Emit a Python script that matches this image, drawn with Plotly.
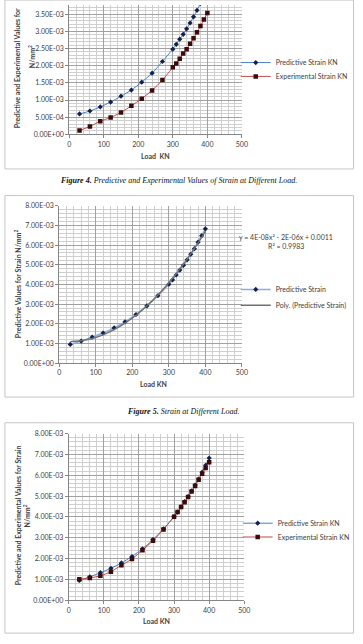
import numpy as np
import plotly.graph_objects as go

# ---------------- data (strain values in units of 1E-03) ----------------
load_kn = [30, 60, 90, 120, 150, 180, 210, 240, 270, 300, 310, 320, 330, 340, 350, 360, 370, 380, 390, 400]

fig4_predictive_e3 = [0.595, 0.68, 0.80, 0.94, 1.11, 1.29, 1.52, 1.78, 2.12, 2.48, 2.62, 2.77, 2.91, 3.07,
                      3.24, 3.42, 3.61, 3.81, 4.02, 4.24]
fig4_experimental_e3 = [0.115, 0.23, 0.38, 0.49, 0.64, 0.83, 1.04, 1.28, 1.58, 1.95, 2.06, 2.20, 2.35, 2.48,
                        2.64, 2.80, 2.97, 3.15, 3.34, 3.53]

predictive_strain_e3 = [0.95, 1.12, 1.32, 1.53, 1.79, 2.10, 2.47, 2.91, 3.43, 4.01, 4.23, 4.48, 4.73, 4.97,
                        5.25, 5.53, 5.82, 6.15, 6.48, 6.83]
experimental_strain_e3 = [1.01, 1.07, 1.17, 1.37, 1.68, 1.98, 2.40, 2.86, 3.40, 4.01, 4.24, 4.47, 4.71, 4.96,
                          5.22, 5.49, 5.79, 6.07, 6.35, 6.62]

x_ticks = [0, 100, 200, 300, 400, 500]
y_ticks_fig4 = [0, 5e-4, 1e-3, 1.5e-3, 2e-3, 2.5e-3, 3e-3, 3.5e-3]
y_ticktext_fig4 = ["0.00E+00", "5.00E-04", "1.00E-03", "1.50E-03", "2.00E-03", "2.50E-03", "3.00E-03", "3.50E-03"]
y_ticks_8 = [0, 1e-3, 2e-3, 3e-3, 4e-3, 5e-3, 6e-3, 7e-3, 8e-3]
y_ticktext_8 = ["0.00E+00", "1.00E-03", "2.00E-03", "3.00E-03", "4.00E-03", "5.00E-03", "6.00E-03", "7.00E-03", "8.00E-03"]

trend_equation = "y = 4E-08x² - 2E-06x + 0.0011"
trend_r2 = "R² = 0.9983"

def e3(v):
    return [a * 1e-3 for a in v]

W, H = 363, 644
def px(x):
    return x / W
def py(y):
    return 1 - y / H

FONT = "Lato"
TXT = "#404040"
BLUE_LINE = "#4a7ebb"
NAVY = "#10204f"
RED_LINE = "#be4b48"
MAROON = "#3d0a0a"
MAJOR = "#a0a0a0"
MINOR = "#cfcfcf"
AXIS = "#868686"

fig = go.Figure()

# ---------- Figure 4 (top, cropped) ----------
fig.add_trace(go.Scatter(x=load_kn, y=e3(fig4_predictive_e3), mode="lines+markers", name="Predictive Strain KN",
                         line=dict(color=BLUE_LINE, width=1, shape="spline", smoothing=0.6),
                         marker=dict(symbol="diamond", size=4, color=NAVY),
                         xaxis="x", yaxis="y", legend="legend"))
fig.add_trace(go.Scatter(x=load_kn, y=e3(fig4_experimental_e3), mode="lines+markers", name="Experimental Strain KN",
                         line=dict(color=RED_LINE, width=1, shape="spline", smoothing=0.6),
                         marker=dict(symbol="square", size=4.5, color=MAROON),
                         xaxis="x", yaxis="y", legend="legend2"))

# ---------- Figure 5 (middle) ----------
coef = np.polyfit(load_kn, e3(predictive_strain_e3), 2)
trend_vals = np.polyval(coef, load_kn)
fig.add_trace(go.Scatter(x=load_kn, y=e3(predictive_strain_e3), mode="lines+markers", name="Predictive Strain",
                         line=dict(color="#86aee0", width=1.5, shape="spline", smoothing=0.6),
                         marker=dict(symbol="diamond", size=4, color=NAVY),
                         xaxis="x2", yaxis="y2", legend="legend3"))
fig.add_trace(go.Scatter(x=load_kn, y=trend_vals, mode="lines", name="Poly. (Predictive Strain)",
                         line=dict(color="#707070", width=1.4, shape="spline", smoothing=0.6),
                         xaxis="x2", yaxis="y2", legend="legend4"))

# ---------- Figure 6 (bottom) ----------
fig.add_trace(go.Scatter(x=load_kn, y=e3(predictive_strain_e3), mode="lines+markers", name="Predictive Strain KN",
                         line=dict(color=BLUE_LINE, width=1, shape="spline", smoothing=0.6),
                         marker=dict(symbol="diamond", size=4, color=NAVY),
                         xaxis="x3", yaxis="y3", legend="legend5"))
fig.add_trace(go.Scatter(x=load_kn, y=e3(experimental_strain_e3), mode="lines+markers", name="Experimental Strain KN",
                         line=dict(color=RED_LINE, width=1, shape="spline", smoothing=0.6),
                         marker=dict(symbol="square", size=4.5, color=MAROON),
                         xaxis="x3", yaxis="y3", legend="legend6"))

tickfont = dict(family=FONT, size=7, color=TXT)
x_minor = list(np.arange(0, 501, 20))

def xax(dom, anchor):
    return dict(domain=dom, anchor=anchor, range=[0, 500], tickmode="array", tickvals=x_ticks,
                ticktext=[str(t) for t in x_ticks], showgrid=True, gridcolor=MAJOR, gridwidth=1,
                minor=dict(tickmode="array", tickvals=x_minor, showgrid=True, gridcolor=MINOR, gridwidth=1, ticks=""),
                showline=True, linecolor=AXIS, linewidth=1, ticks="outside", ticklen=3, tickcolor=AXIS,
                zeroline=False, tickfont=tickfont, fixedrange=True)

def yax(dom, anchor, rng, vals, text, minor_step):
    mv = list(np.arange(0, rng[1] + minor_step / 2, minor_step))
    return dict(domain=dom, anchor=anchor, range=rng, tickmode="array", tickvals=vals, ticktext=text,
                showgrid=True, gridcolor=MAJOR, gridwidth=1,
                minor=dict(tickmode="array", tickvals=mv, showgrid=True, gridcolor=MINOR, gridwidth=1, ticks=""),
                showline=True, linecolor=AXIS, linewidth=1, ticks="outside", ticklen=3, tickcolor=AXIS,
                zeroline=False, tickfont=tickfont, fixedrange=True)

layout = dict(
    width=W, height=H, margin=dict(l=0, r=0, t=0, b=0),
    paper_bgcolor="white", plot_bgcolor="white", showlegend=True,
    font=dict(family=FONT, size=7, color=TXT),
    xaxis=xax([px(68.7), px(245.3)], "y"),
    yaxis=yax([py(131), 1.0], "x", [0, 3.764e-3], y_ticks_fig4, y_ticktext_fig4, 1e-4),
    xaxis2=xax([px(58.6), px(245.3)], "y2"),
    yaxis2=yax([py(362.6), py(203.3)], "x2", [0, 8e-3], y_ticks_8, y_ticktext_8, 2e-4),
    xaxis3=xax([px(68.3), px(247.7)], "y3"),
    yaxis3=yax([py(602.7), py(434)], "x3", [0, 8e-3], y_ticks_8, y_ticktext_8, 2e-4),
)

def leg(text_x, center_y):
    return dict(x=px(text_x - 40), y=py(center_y), xanchor="left", yanchor="middle",
                bgcolor="rgba(0,0,0,0)", borderwidth=0, itemwidth=30, visible=True,
                font=dict(family=FONT, size=7, color=TXT))

layout["legend"] = leg(279, 58.3)
layout["legend2"] = leg(279, 72.3)
layout["legend3"] = leg(279, 288)
layout["legend4"] = leg(279, 304)
layout["legend5"] = leg(281, 524.7)
layout["legend6"] = leg(281, 538.7)
fig.update_layout(**layout)

# ---------- frames ----------
frame = dict(type="rect", xref="paper", yref="paper", line=dict(color="#c4c4c4", width=1), fillcolor="rgba(0,0,0,0)", layer="below")
fig.add_shape(x0=px(3), x1=px(359.5), y0=py(166), y1=py(-5), **frame)
fig.add_shape(x0=px(3), x1=px(359.5), y0=py(397), y1=py(193), **frame)
fig.add_shape(x0=px(3), x1=px(359.5), y0=py(636), y1=py(423), **frame)

# ---------- text ----------
def ann(text, x, y, size=7, bold=False, angle=0, family=FONT, color=TXT, xanchor="center"):
    t = f"<b>{text}</b>" if bold else text
    fig.add_annotation(text=t, x=px(x), y=py(y), xref="paper", yref="paper", showarrow=False,
                       textangle=angle, xanchor=xanchor, yanchor="middle",
                       font=dict(family=family, size=size, color=color))

# x-axis titles
ann("Load  KN", 157, 152.7, bold=True)
ann("Load KN", 155, 384, bold=True)
ann("Load KN", 157.5, 623.7, bold=True)

# y-axis titles
ann("Predictive and Experimental Values for", 15.5, 64, bold=True, angle=-90)
ann("N/mm<sup>2</sup>", 30.5, 52, bold=True, angle=-90)
ann("Predictive Values for Strain N/mm<sup>2</sup>", 16, 282, bold=True, angle=-90)
ann("Predictive and Experimental Values for Strain", 16, 517, bold=True, angle=-90)
ann("N/mm<sup>2</sup>", 25.5, 517, bold=True, angle=-90)

# trendline equation
ann(trend_equation, 290, 235)
ann(trend_r2, 290, 244)

# captions
cap_font = "Liberation Serif"
ann("<b><i>Figure 4.</i></b><i> Predictive and Experimental Values of Strain at Different Load.</i>", 180.5, 178,
    size=8, family=cap_font, color="#111111")
ann("<b><i>Figure 5.</i></b><i> Strain at Different Load.</i>", 185.5, 412, size=8, family=cap_font, color="#111111")

fig.write_html("out.html")
